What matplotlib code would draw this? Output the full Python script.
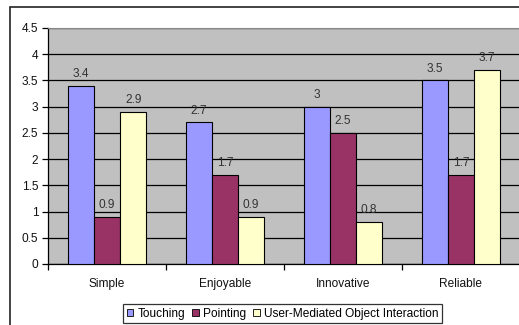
import matplotlib
matplotlib.use("Agg")
import matplotlib.pyplot as plt
from matplotlib.patches import Rectangle
import numpy as np

plt.rcParams['font.family'] = ['Liberation Sans', 'DejaVu Sans']

categories = ["Simple", "Enjoyable", "Innovative", "Reliable"]
series_names = ["Touching", "Pointing", "User-Mediated Object Interaction"]
touching = [3.4, 2.7, 3.0, 3.5]
pointing = [0.9, 1.7, 2.5, 1.7]
umoi = [2.9, 0.9, 0.8, 3.7]
value_labels = [["3.4", "2.7", "3", "3.5"],
                ["0.9", "1.7", "2.5", "1.7"],
                ["2.9", "0.9", "0.8", "3.7"]]
yticks = [0, 0.5, 1, 1.5, 2, 2.5, 3, 3.5, 4, 4.5]
ytick_labels = ["0", "0.5", "1", "1.5", "2", "2.5", "3", "3.5", "4", "4.5"]
colors = ["#9999FF", "#993366", "#FFFFCC"]

W, H = 519, 325
fig = plt.figure(figsize=(W / 100, H / 100), dpi=100)
fig.patch.set_facecolor("white")

# outer chart frame
fig.patches.append(Rectangle((10 / W, -0.2), 1.2, (H - 7) / H + 0.2,
                             transform=fig.transFigure, fill=False,
                             edgecolor="#222222", linewidth=1.2, clip_on=False))

ax = fig.add_axes([48 / W, 1 - 264 / H, 472 / W, (264 - 28) / H])
ax.set_facecolor("#C0C0C0")
ax.set_xlim(0, len(categories))
ax.set_ylim(0, 4.5)

fs = 8.6
bw = 1 / 4.5
x = np.arange(len(categories)) + 0.5
for i, (vals, c) in enumerate(zip([touching, pointing, umoi], colors)):
    pos = x + (i - 1) * bw
    ax.bar(pos, vals, width=bw, color=c, edgecolor="black", linewidth=0.8,
           label=series_names[i], zorder=3)
    for px, v, t in zip(pos, vals, value_labels[i]):
        ax.annotate(t, (px, v), xytext=(0, 4), textcoords="offset points",
                    ha="center", va="bottom", fontsize=fs, color="#333333")

ax.set_yticks(yticks)
ax.set_yticklabels(ytick_labels, fontsize=fs, color="#111111")
ax.yaxis.grid(True, color="black", linewidth=0.9, zorder=1)
ax.set_axisbelow(True)

ax.set_xticks(np.arange(len(categories) + 1))
ax.set_xticklabels([])
ax.set_xticks(x, minor=True)
ax.set_xticklabels(categories, minor=True, fontsize=fs, color="#111111")
ax.tick_params(axis="x", which="minor", length=0, pad=10)
ax.tick_params(axis="x", which="major", length=4, width=0.9, direction="out")
ax.tick_params(axis="y", length=4, width=0.9, direction="out", pad=3)

for s in ["top", "right"]:
    ax.spines[s].set_color("#888888")
    ax.spines[s].set_linewidth(0.8)
ax.spines["left"].set_color("black")
ax.spines["bottom"].set_color("black")
ax.spines["left"].set_linewidth(0.9)
ax.spines["bottom"].set_linewidth(0.9)

leg = fig.legend(loc="upper left", bbox_to_anchor=(123 / W, 1 - 304 / H),
                 ncol=3, fontsize=fs, frameon=True, fancybox=False,
                 edgecolor="black", handlelength=0.55, handleheight=0.55,
                 handletextpad=0.35, columnspacing=0.6, borderpad=0.3,
                 borderaxespad=0)
leg.get_frame().set_linewidth(0.9)
for h in leg.legend_handles:
    h.set_linewidth(0.6)

fig.savefig("out.png", dpi=100)
